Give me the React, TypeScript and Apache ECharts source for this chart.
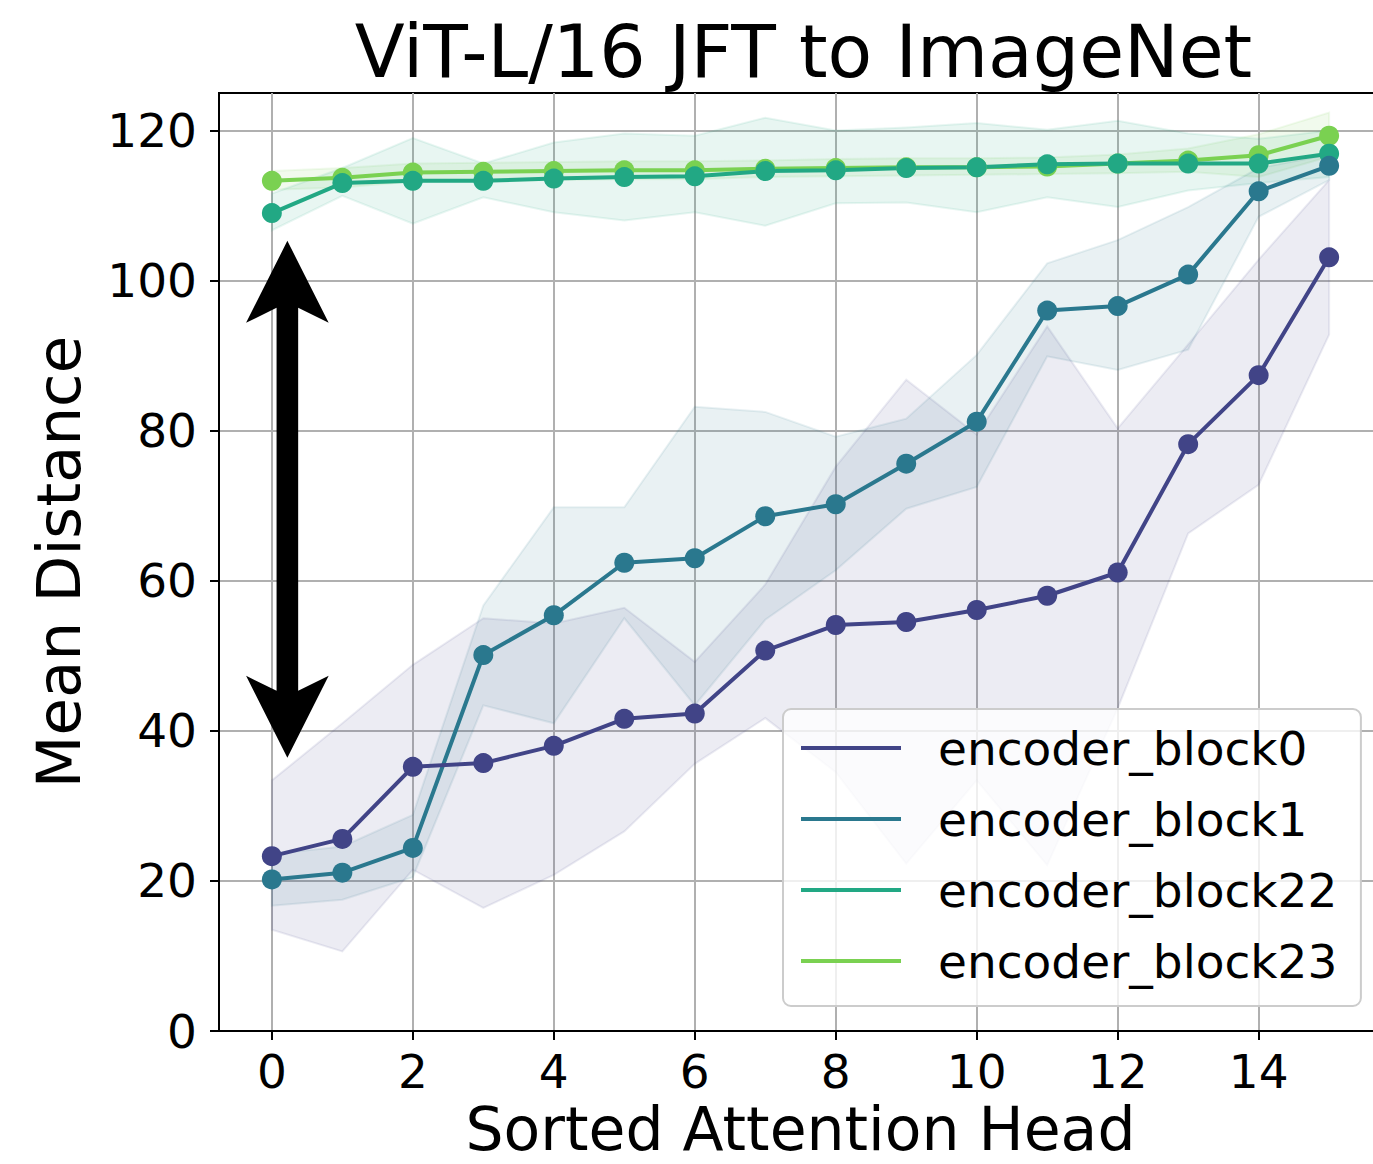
import React, { useEffect, useRef } from 'react';
import * as echarts from 'echarts';

const TITLE = 'ViT-L/16 JFT to ImageNet';
const X_NAME = 'Sorted Attention Head';
const Y_NAME = 'Mean Distance';

const HEADS = [0, 1, 2, 3, 4, 5, 6, 7, 8, 9, 10, 11, 12, 13, 14, 15];
const X_TICKS = [0, 2, 4, 6, 8, 10, 12, 14];
const Y_TICKS = [0, 20, 40, 60, 80, 100, 120];

const SERIES_NAMES = ['encoder_block0', 'encoder_block1', 'encoder_block22', 'encoder_block23'];
const COLORS = ['#414487', '#2A788E', '#22A884', '#7AD151'];
const FILLS = ['rgba(65,68,135,0.1)', 'rgba(42,120,142,0.1)', 'rgba(34,168,132,0.1)', 'rgba(122,209,81,0.1)'];

const block0 = [23.3, 25.6, 35.2, 35.7, 38.0, 41.6, 42.3, 50.7, 54.1, 54.5, 56.1, 58.0, 61.1, 78.2, 87.4, 103.1];
const block0Lo = [13.5, 10.6, 21.5, 16.4, 20.8, 26.6, 35.6, 41.7, 34.5, 22.3, 33.4, 22.1, 43.0, 66.3, 72.8, 92.8];
const block0Hi = [33.4, 41.0, 48.8, 55.0, 54.3, 56.4, 49.2, 59.5, 75.2, 86.8, 79.5, 93.9, 80.3, 91.5, 102.8, 113.4];

const block1 = [20.2, 21.1, 24.4, 50.1, 55.4, 62.4, 63.0, 68.6, 70.2, 75.6, 81.2, 96.0, 96.6, 100.8, 111.9, 115.3];
const block1Lo = [16.7, 17.5, 20.5, 43.4, 41.0, 55.0, 43.4, 54.8, 61.4, 69.6, 72.5, 89.9, 88.1, 90.8, 108.5, 113.4];
const block1Hi = [23.6, 24.6, 28.8, 56.7, 69.8, 69.8, 83.2, 82.5, 79.2, 81.6, 90.1, 102.3, 105.4, 109.8, 115.0, 116.8];

const block22 = [109.0, 113.0, 113.3, 113.3, 113.6, 113.8, 113.9, 114.6, 114.7, 115.0, 115.1, 115.5, 115.6, 115.6, 115.6, 116.9];
const block22Lo = [106.7, 111.3, 107.6, 111.1, 109.1, 108.0, 109.1, 107.3, 110.3, 110.4, 109.1, 111.1, 109.8, 112.0, 113.0, 113.8];
const block22Hi = [111.6, 115.0, 119.0, 115.6, 118.4, 119.6, 119.3, 121.7, 120.0, 120.4, 121.0, 120.1, 121.3, 119.6, 118.9, 120.0];

const block23 = [113.3, 113.7, 114.4, 114.5, 114.6, 114.7, 114.7, 114.9, 115.0, 115.1, 115.1, 115.2, 115.6, 116.0, 116.7, 119.3];
const block23Lo = [112.1, 112.4, 113.2, 113.3, 113.4, 113.5, 113.5, 113.8, 113.9, 114.0, 114.1, 114.2, 114.3, 114.5, 113.8, 116.5];
const block23Hi = [114.6, 115.0, 115.6, 115.7, 115.8, 115.9, 115.9, 116.0, 116.2, 116.3, 116.3, 116.4, 116.8, 117.6, 119.5, 122.4];

const MEANS = [block0, block1, block22, block23];
const LOWS = [block0Lo, block1Lo, block22Lo, block23Lo];
const HIGHS = [block0Hi, block1Hi, block22Hi, block23Hi];

// annotation arrow (data coordinates)
const ARROW_X = 0.22;
const ARROW_TOP = 105.3;
const ARROW_BOTTOM = 36.4;

const FONT = 'DejaVu Sans';

// canvas is wider than the page so the right spine falls just outside, like the reference
const CANVAS_W = 1400;
const CANVAS_H = 1164;
const GRID_LEFT = 219;
const GRID_RIGHT_EDGE = 1382;
const GRID_TOP = 93;
const GRID_BOTTOM_EDGE = 1031;

export default function App() {
  const ref = useRef<HTMLDivElement>(null);

  useEffect(() => {
    const chart = echarts.init(ref.current!, null, { renderer: 'svg' });

    const bandSeries = [3, 2, 1, 0].map((k) => ({
      type: 'custom',
      silent: true,
      z: 1,
      clip: true,
      data: [[HEADS[0], MEANS[k][0]]],
      renderItem: (params: any, api: any) => {
        const pts: number[][] = [];
        for (let i = 0; i < HEADS.length; i++) pts.push(api.coord([HEADS[i], HIGHS[k][i]]));
        for (let i = HEADS.length - 1; i >= 0; i--) pts.push(api.coord([HEADS[i], LOWS[k][i]]));
        return {
          type: 'polygon',
          shape: { points: pts },
          style: { fill: FILLS[k], stroke: FILLS[k], lineWidth: 2 },
        };
      },
    }));

    const lineSeries = [3, 2, 1, 0].map((k) => ({
      type: 'line',
      name: SERIES_NAMES[k],
      data: HEADS.map((h, i) => [h, MEANS[k][i]]),
      symbol: 'circle',
      symbolSize: 20,
      showSymbol: true,
      z: 3,
      color: COLORS[k],
      itemStyle: { color: COLORS[k] },
      lineStyle: { color: COLORS[k], width: 4 },
      emphasis: { disabled: true },
    }));

    const option: any = {
      animation: false,
      backgroundColor: '#ffffff',
      grid: {
        left: GRID_LEFT,
        right: CANVAS_W - GRID_RIGHT_EDGE,
        top: GRID_TOP,
        bottom: CANVAS_H - GRID_BOTTOM_EDGE,
        show: true,
        borderColor: '#000000',
        borderWidth: 2,
        backgroundColor: 'transparent',
        containLabel: false,
      },
      xAxis: {
        type: 'value',
        min: -0.75,
        max: 15.75,
        axisLine: { show: true, onZero: false, lineStyle: { color: '#000', width: 2 } },
        axisTick: { show: true, inside: false, length: 9, customValues: X_TICKS, lineStyle: { color: '#000', width: 2 } },
        axisLabel: { show: true, customValues: X_TICKS, margin: 17, fontSize: 47, fontFamily: FONT, color: '#000' },
        splitLine: { show: true, lineStyle: { color: '#b0b0b0', width: 2 } },
      },
      yAxis: {
        type: 'value',
        min: 0,
        max: 125,
        axisLine: { show: true, onZero: false, lineStyle: { color: '#000', width: 2 } },
        axisTick: { show: true, inside: false, length: 9, customValues: Y_TICKS, lineStyle: { color: '#000', width: 2 } },
        axisLabel: { show: true, customValues: Y_TICKS, margin: 22, fontSize: 47, fontFamily: FONT, color: '#000' },
        splitLine: { show: true, lineStyle: { color: '#b0b0b0', width: 2 } },
      },
      legend: {
        data: SERIES_NAMES,
        orient: 'vertical',
        left: 783,
        top: 709,
        padding: [15.5, 23.5, 21.5, 18],
        itemWidth: 100,
        itemHeight: 4,
        itemGap: 24,
        icon: 'rect',
        selectedMode: false,
        backgroundColor: 'rgba(255,255,255,0.8)',
        borderColor: '#cccccc',
        borderWidth: 2,
        borderRadius: 8,
        textStyle: { fontSize: 47, fontFamily: FONT, color: '#000', lineHeight: 47, padding: [0, 0, 0, 32] },
      },
      series: [...bandSeries, ...lineSeries],
    };

    chart.setOption(option);

    const top = chart.convertToPixel({ gridIndex: 0 }, [ARROW_X, ARROW_TOP]) as number[];
    const bot = chart.convertToPixel({ gridIndex: 0 }, [ARROW_X, ARROW_BOTTOM]) as number[];
    const cx = top[0];
    const headLen = 82;
    const notch = 67;
    const halfHead = 41.3;
    const halfShaft = 10.8;
    const t = top[1];
    const b = bot[1];
    const arrowPts = [
      [cx, t],
      [cx + halfHead, t + headLen],
      [cx + halfShaft, t + notch],
      [cx + halfShaft, b - notch],
      [cx + halfHead, b - headLen],
      [cx, b],
      [cx - halfHead, b - headLen],
      [cx - halfShaft, b - notch],
      [cx - halfShaft, t + notch],
      [cx - halfHead, t + headLen],
    ];

    const midX = (GRID_LEFT + GRID_RIGHT_EDGE) / 2;
    const midY = (GRID_TOP + GRID_BOTTOM_EDGE) / 2;

    chart.setOption({
      graphic: [
        {
          type: 'polygon',
          shape: { points: arrowPts },
          style: { fill: '#000000' },
          z: 50,
          silent: true,
        },
        {
          type: 'text',
          x: midX + 3,
          y: 51,
          z: 60,
          style: {
            text: TITLE, fontSize: 73, fontFamily: FONT, fill: '#000', lineHeight: 60,
            align: 'center', verticalAlign: 'middle', textAlign: 'center', textVerticalAlign: 'middle',
          },
        },
        {
          type: 'text',
          x: midX,
          y: 1129,
          z: 60,
          style: {
            text: X_NAME, fontSize: 60, fontFamily: FONT, fill: '#000', lineHeight: 46,
            align: 'center', verticalAlign: 'middle', textAlign: 'center', textVerticalAlign: 'middle',
          },
        },
        {
          type: 'text',
          x: 58,
          y: midY,
          rotation: Math.PI / 2,
          z: 60,
          style: {
            text: Y_NAME, fontSize: 61, fontFamily: FONT, fill: '#000', lineHeight: 48,
            align: 'center', verticalAlign: 'middle', textAlign: 'center', textVerticalAlign: 'middle',
          },
        },
      ],
    });

    return () => chart.dispose();
  }, []);

  return (
    <div style={{ position: 'absolute', left: 0, top: 0, width: 1373, height: CANVAS_H, overflow: 'hidden', background: '#fff' }}>
      <div ref={ref} style={{ width: CANVAS_W, height: CANVAS_H }} />
    </div>
  );
}
